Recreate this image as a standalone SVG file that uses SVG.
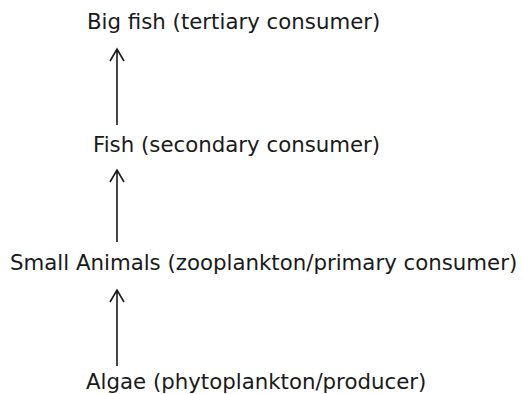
<svg xmlns="http://www.w3.org/2000/svg" width="523" height="394" viewBox="0 0 523 394">
<style>
text{font-family:"DejaVu Sans",Verdana,sans-serif;font-size:21.3px;fill:#1a1a1a}
.c{stroke:#1a1a1a;stroke-width:1.6;fill:none}
</style>
<rect width="523" height="394" fill="#fff"/>
<g id="big-fish"><text x="87" y="29">Big fish (tertiary consumer)</text></g>
<g id="fish"><text x="93" y="152">Fish (secondary consumer)</text></g>
<g id="small-animals"><text x="10" y="270">Small Animals (zooplankton/primary consumer)</text></g>
<g id="algae"><text x="86" y="389">Algae (phytoplankton/producer)</text></g>
<g id="connectors">
<path class="c" d="M117 125V49M110 61L117 49L124 61"/>
<path class="c" d="M117 242V170M110 182L117 170L124 182"/>
<path class="c" d="M117 366V290M110 302L117 290L124 302"/>
</g>
</svg>
